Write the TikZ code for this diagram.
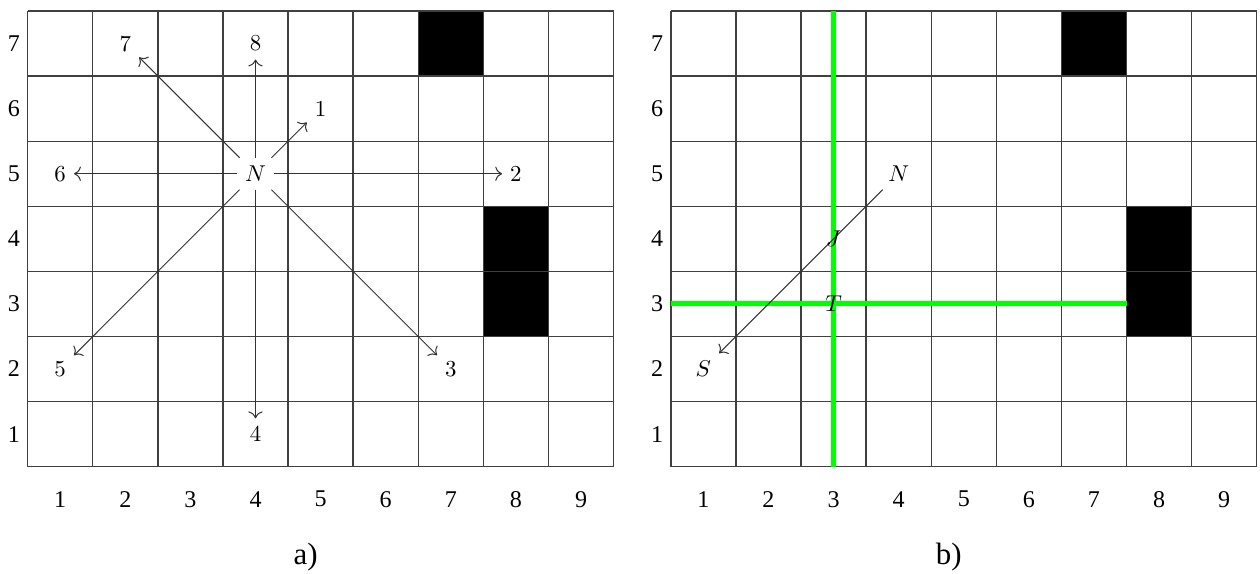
\documentclass[tikz,border=0pt]{standalone}
\usepackage{fontspec}
\newfontfamily\timesfont{Liberation Serif}
\usepackage{tikz}
\usetikzlibrary{arrows.meta}

\begin{document}
\begin{tikzpicture}[
    font=\fontsize{10}{12}\selectfont,
    grille/.style={draw=black!75, line width=0.6pt},
    bloc/.style={fill=black},
    chemin/.style={draw=green, line width=2.2pt},
    fleche/.style={-{To[length=3pt]}, draw=black!80, line width=0.45pt},
    axe/.style={font=\timesfont\fontsize{10.5}{12}\selectfont},
    titre/.style={font=\timesfont\fontsize{13.5}{15}\selectfont}
  ]
    \useasboundingbox (0.075,-1.148) rectangle (19.43,7.669);

    % a)
    \fill[bloc] (6.5,6.5) rectangle (7.5,7.5);
    \fill[bloc] (7.5,2.5) rectangle (8.5,4.5);
    \foreach \x in {0.5,1.5,...,9.5} \draw[grille] (\x,0.5) -- (\x,7.5);
    \foreach \y in {0.5,1.5,...,7.5} \draw[grille] (0.5,\y) -- (9.5,\y);
    \foreach \c in {1,...,9} \node[axe] (ac\c) at (\c,0) {\c};
    \foreach \r in {1,...,7} \node[axe] (ar\r) at (0.29,\r) {\r};

    \node (N) at (4,5) {$N$};
    \node (d1) at (5,6) {1};
    \node (d2) at (8,5) {2};
    \node (d3) at (7,2) {3};
    \node (d4) at (4,1) {4};
    \node (d5) at (1,2) {5};
    \node (d6) at (1,5) {6};
    \node (d7) at (2,7) {7};
    \node (d8) at (4,7) {8};
    \foreach \d in {d1,d2,d3,d4,d5,d6,d7,d8} \draw[fleche] (N) -- (\d);

    \node[titre] (ta) at (4.77,-0.89) {a)};

    % b)
    \begin{scope}[xshift=9.88cm]
    \fill[bloc] (6.5,6.5) rectangle (7.5,7.5);
    \fill[bloc] (7.5,2.5) rectangle (8.5,4.5);
    \foreach \x in {0.5,1.5,...,9.5} \draw[grille] (\x,0.5) -- (\x,7.5);
    \foreach \y in {0.5,1.5,...,7.5} \draw[grille] (0.5,\y) -- (9.5,\y);
    \foreach \c in {1,...,9} \node[axe] (bc\c) at (\c,0) {\c};
    \foreach \r in {1,...,7} \node[axe] (br\r) at (0.29,\r) {\r};

    \draw[chemin] (3,0.5) -- (3,7.5);
    \draw[chemin] (0.5,3) -- (7.5,3);

    \node (Nb) at (4,5) {$N$};
    \node (S) at (1,2) {$S$};
    \draw[fleche] (Nb) -- (S);
    \node (J) at (3,4) {$J$};
    \node (T) at (3,3) {$T$};

    \node[titre] (tb) at (4.77,-0.89) {b)};
    \end{scope}
  \end{tikzpicture}
\end{document}
